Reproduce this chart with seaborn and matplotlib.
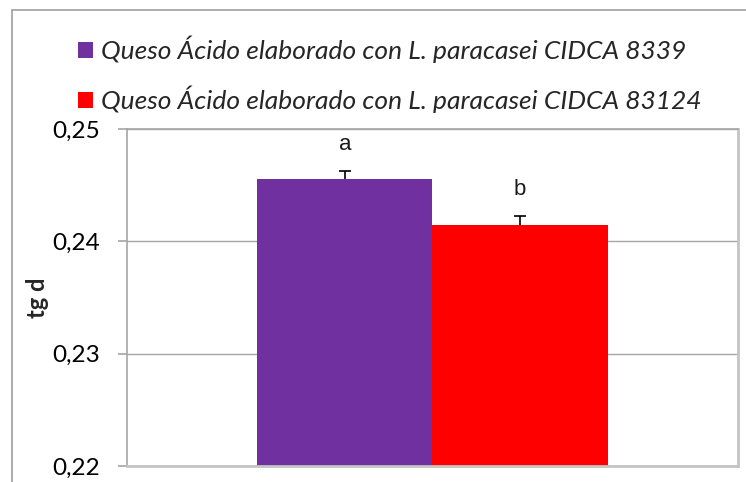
import matplotlib
matplotlib.use("Agg")
import matplotlib.pyplot as plt
import seaborn as sns
import pandas as pd
from matplotlib.patches import Patch
from matplotlib.lines import Line2D
from matplotlib.ticker import FixedLocator, FuncFormatter

# Data
series = ["Queso Ácido elaborado con L. paracasei CIDCA 8339",
          "Queso Ácido elaborado con L. paracasei CIDCA 83124"]
values = [0.24555, 0.24145]
errors = [0.0007, 0.0008]
letters = ["a", "b"]
colors = ["#7030A0", "#FF0000"]
yticks = [0.22, 0.23, 0.24, 0.25]

sns.set_theme(style="white")
plt.rcParams["font.family"] = ["Lato", "DejaVu Sans"]

df = pd.DataFrame({"grupo": [""] * 2, "serie": series, "tgd": values})

fig = plt.figure(figsize=(7.46, 4.82), dpi=100)
ax = fig.add_axes([0.1702, 0.0332, 0.8191, 0.6992])

sns.barplot(data=df, x="grupo", y="tgd", hue="serie", palette=colors,
            width=0.573, gap=0, dodge=True, saturation=1, errorbar=None,
            legend=False, linewidth=0, ax=ax, zorder=2)

ax.set_xlim(-0.5, 0.5)
ax.set_ylim(yticks[0], yticks[-1])
ax.yaxis.set_major_locator(FixedLocator(yticks))
ax.yaxis.set_major_formatter(FuncFormatter(lambda v, p: f"{v:.2f}".replace(".", ",")))
ax.set_xticks([])
ax.set_xlabel("")
ax.set_ylabel("tg d", fontsize=17, fontweight="bold")
ax.yaxis.set_label_coords(-0.127, 0.5)

ax.grid(axis="y", color="#A6A6A6", linewidth=1, zorder=0)
ax.set_axisbelow(True)
for side in ["left", "top"]:
    ax.spines[side].set_color("#A6A6A6")
    ax.spines[side].set_linewidth(1.2)
for side in ["bottom", "right"]:
    ax.spines[side].set_color("#C4C4C4")
    ax.spines[side].set_linewidth(2)
ax.tick_params(axis="y", which="major", left=True, length=6.5, width=1.2,
               color="#A6A6A6", labelsize=17.5, pad=13, labelcolor="black")

# Upper-only error bars and significance letters at each bar's centre
cap_half = 0.0098
bars = sorted(ax.patches, key=lambda p: p.get_x())
for bar, v, e, lab in zip(bars, values, errors, letters):
    xc = bar.get_x() + bar.get_width() / 2
    ax.vlines(xc, v, v + e, color="black", linewidth=1.2, zorder=3)
    ax.hlines(v + e, xc - cap_half, xc + cap_half, color="black",
              linewidth=1.2, zorder=3)
    ax.text(xc, v + e + 0.0019, lab, ha="center", va="baseline", fontsize=16,
            color="#1a1a1a", family="Liberation Sans")

handles = [Patch(facecolor=c, edgecolor="none") for c in colors]
fig.legend(handles, series, loc="upper left", bbox_to_anchor=(0.104, 0.926),
           frameon=False, borderpad=0, borderaxespad=0,
           handlelength=0.58, handleheight=0.58,
           handletextpad=0.32, labelspacing=0.85,
           prop={"style": "italic", "size": 19})

# Outer chart frame
fig.add_artist(Line2D([0.0155, 0.0155], [0.0, 0.979], color="#A0A0A0",
                      linewidth=1.2, transform=fig.transFigure))
fig.add_artist(Line2D([0.0155, 1.0], [0.979, 0.979], color="#A0A0A0",
                      linewidth=1.2, transform=fig.transFigure))

fig.savefig("out.png", dpi=100)
